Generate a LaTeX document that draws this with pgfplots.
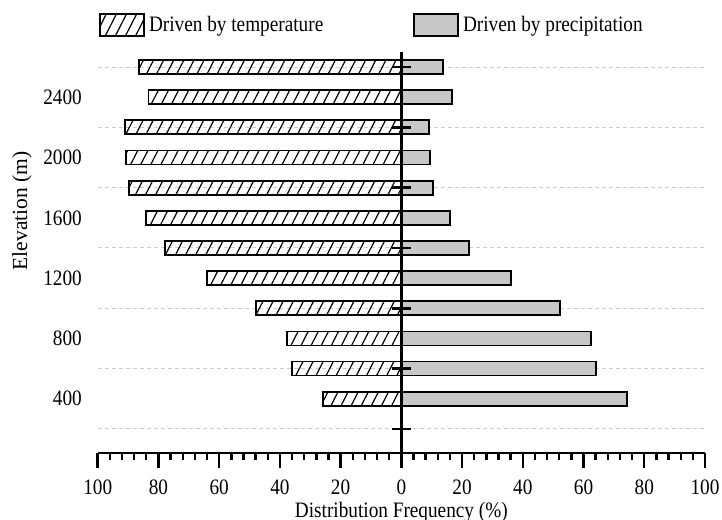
\documentclass[border=0pt]{standalone}
\usepackage{fontspec}
\setmainfont[FakeStretch=0.875]{Liberation Serif}
\newfontfamily\rotfont{Liberation Serif}
\usepackage{pgfplots}
\pgfplotsset{compat=1.18}
\usetikzlibrary{patterns.meta}
\definecolor{bargray}{RGB}{199,199,199}
\definecolor{gridgray}{RGB}{205,205,205}
\newcommand\fsz{\fontsize{22bp}{26bp}\selectfont}
\pgfplotsset{boxlegend/.style={legend image code/.code={\draw[##1] (0bp,-11bp) rectangle (44bp,11bp);}}}

\begin{document}
\begin{tikzpicture}
\useasboundingbox (0,0) rectangle (722bp,520bp);
\begin{axis}[
  at={(97.7bp,67bp)}, anchor=south west,
  scale only axis, width=607.3bp, height=401bp,
  xmin=-100, xmax=100, ymin=40, ymax=2700,
  clip=false,
  axis x line*=bottom, axis y line*=left,
  x axis line style={-, line width=2.5bp},
  y axis line style={draw=none},
  xtick={-100,-80,...,100},
  xticklabels={100,80,60,40,20,0,20,40,60,80,100},
  minor x tick num=4,
  xtick align=outside,
  major tick length=15bp, minor tick length=7bp,
  every tick/.style={black, line width=2.4bp},
  ytick={400,800,...,2400},
  yticklabels={400,800,1200,1600,2000,2400},
  ytick style={draw=none},
  ytick align=inside,
  yticklabel style={anchor=east, inner sep=0pt, xshift=-15.7bp, font=\fsz},
  xticklabel style={anchor=base, inner sep=0pt, yshift=-26bp, font=\fsz},
  extra y ticks={200,600,...,2600},
  extra y tick labels={},
  extra y tick style={grid=major, tick style={draw=none}},
  major grid style={gridgray, dash pattern=on 4bp off 3bp, line width=1bp},
  xlabel={Distribution Frequency (\%)},
  xlabel style={at={(axis description cs:0.5,-0.162)}, anchor=base, font=\fsz},
  ylabel={Elevation (m)},
  ylabel style={at={(axis description cs:-0.1247,0.6035)}, anchor=center, font=\rotfont\fontsize{21.5bp}{26bp}\selectfont},
  bar width=93,
  legend columns=2,
  legend cell align=left,
  legend style={at={(axis description cs:0.0022,1)}, anchor=west, yshift=27bp,
    draw=none, fill=none, inner sep=0pt, font=\fsz,
    /tikz/every odd column/.append style={column sep=2bp},
    /tikz/every even column/.append style={column sep=88bp}},
]
\addplot[xbar, bar shift=0pt, draw=black, line width=1.8bp,
  pattern={Lines[angle=63,distance=9bp,line width=1.2bp]}, pattern color=black,
  boxlegend]
coordinates {
(-86.3,2600) (-83.3,2400) (-90.9,2200) (-90.6,2000) (-89.6,1800) (-84.0,1600)
(-77.8,1400) (-63.9,1200) (-47.8,1000) (-37.6,800) (-35.9,600) (-25.7,400)
};
\addlegendentry{Driven by temperature}
\addplot[xbar, bar shift=0pt, draw=black, line width=1.8bp, fill=bargray, boxlegend]
coordinates {
(13.7,2600) (16.7,2400) (9.1,2200) (9.4,2000) (10.4,1800) (16.0,1600)
(22.2,1400) (36.1,1200) (52.2,1000) (62.4,800) (64.1,600) (74.3,400)
};
\addlegendentry{Driven by precipitation}
\draw[line width=2.5bp] (axis cs:0,40) -- (axis cs:0,2700);
\draw[line width=2.5bp] ([xshift=-9bp]axis cs:0,200) -- ([xshift=10bp]axis cs:0,200);
\draw[line width=2.5bp] ([xshift=-9bp]axis cs:0,600) -- ([xshift=10bp]axis cs:0,600);
\draw[line width=2.5bp] ([xshift=-9bp]axis cs:0,1000) -- ([xshift=10bp]axis cs:0,1000);
\draw[line width=2.5bp] ([xshift=-9bp]axis cs:0,1400) -- ([xshift=10bp]axis cs:0,1400);
\draw[line width=2.5bp] ([xshift=-9bp]axis cs:0,1800) -- ([xshift=10bp]axis cs:0,1800);
\draw[line width=2.5bp] ([xshift=-9bp]axis cs:0,2200) -- ([xshift=10bp]axis cs:0,2200);
\draw[line width=2.5bp] ([xshift=-9bp]axis cs:0,2600) -- ([xshift=10bp]axis cs:0,2600);
\end{axis}
\end{tikzpicture}
\end{document}
